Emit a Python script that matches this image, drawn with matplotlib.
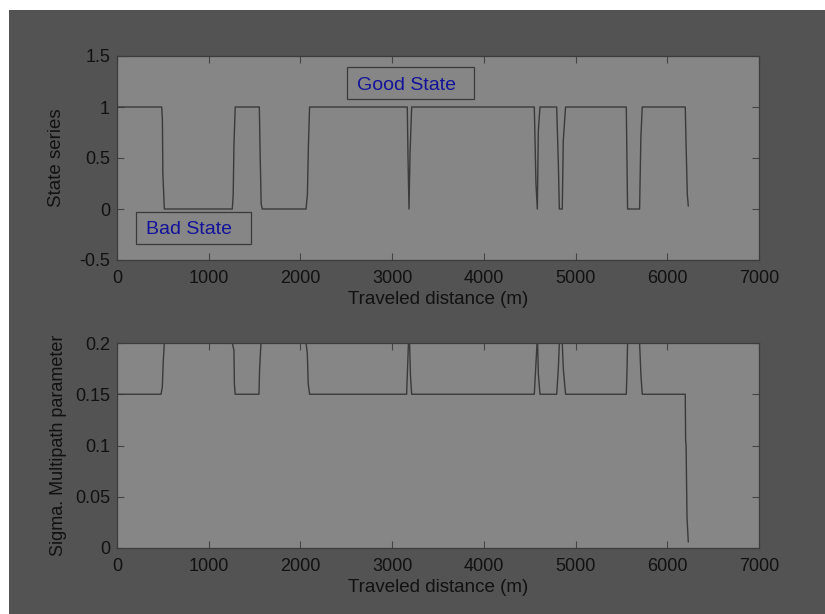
import matplotlib
matplotlib.use("Agg")
import matplotlib.pyplot as plt
from matplotlib.patches import Rectangle

plt.rcParams['font.family'] = ['Liberation Sans', 'DejaVu Sans']

# ---- data ----
state_x = [0, 487, 495, 500, 516, 1257, 1267, 1275, 1289, 1552, 1560, 1572, 1584,
           2061, 2076, 2087, 2100, 3165, 3173, 3184, 3195, 3213,
           4550, 4568, 4583, 4594, 4612, 4794, 4812, 4823, 4855, 4866, 4891,
           5553, 5560, 5567, 5698, 5712, 5727, 6196, 6203, 6218, 6229]
state_y = [1, 1, 0.88, 0.35, 0, 0, 0.14, 0.62, 1, 1, 0.57, 0.05, 0,
           0, 0.14, 0.62, 1, 1, 0.5, 0, 0.55, 1,
           1, 0.25, 0, 0.77, 1, 1, 0.45, 0, 0, 0.67, 1,
           1, 0.5, 0, 0, 0.7, 1, 1, 0.7, 0.15, 0.03]

sigma_x = [0, 480, 494, 505, 516, 525, 1250, 1257, 1275, 1280, 1289,
           1548, 1555, 1570, 1578, 2055, 2061, 2075, 2085, 2100,
           3158, 3165, 3178, 3184, 3190, 3200, 3213,
           4550, 4568, 4580, 4583, 4586, 4594, 4612,
           4794, 4812, 4823, 4830, 4850, 4855, 4866, 4891,
           5553, 5560, 5567, 5572, 5690, 5698, 5712, 5727,
           6196, 6200, 6205, 6215, 6229]
sigma_y = [0.15, 0.15, 0.157, 0.183, 0.2, 0.25, 0.25, 0.2, 0.193, 0.16, 0.15,
           0.15, 0.175, 0.2, 0.25, 0.25, 0.2, 0.19, 0.16, 0.15,
           0.15, 0.168, 0.2, 0.25, 0.2, 0.168, 0.15,
           0.15, 0.18, 0.2, 0.25, 0.2, 0.17, 0.15,
           0.15, 0.175, 0.2, 0.25, 0.25, 0.2, 0.175, 0.15,
           0.15, 0.17, 0.2, 0.25, 0.25, 0.2, 0.17, 0.15,
           0.15, 0.105, 0.1, 0.03, 0.006]

x_ticks = [0, 1000, 2000, 3000, 4000, 5000, 6000, 7000]
top_yticks = [-0.5, 0, 0.5, 1, 1.5]
top_ylabels = ['-0.5', '0', '0.5', '1', '1.5']
bot_yticks = [0, 0.05, 0.1, 0.15, 0.2]
bot_ylabels = ['0', '0.05', '0.1', '0.15', '0.2']

FIG_BG = '#535353'
AX_BG = '#868686'
LINE_C = '#3a3a3a'
TXT_C = '#111111'
BLUE = '#12129a'
TICK_FS = 13
LAB_FS = 13.5

fig = plt.figure(figsize=(8.25, 6.14), dpi=100, facecolor='white')
fig.add_artist(Rectangle((9 / 825, 0), 1, 1 - 10 / 614, transform=fig.transFigure,
                         facecolor=FIG_BG, edgecolor='none', zorder=-10))

ax1 = fig.add_axes([117 / 825, 1 - 260 / 614, 642 / 825, 204 / 614])
ax2 = fig.add_axes([117 / 825, 1 - 548 / 614, 642 / 825, 205 / 614])

for ax in (ax1, ax2):
    ax.set_facecolor(AX_BG)
    for s in ax.spines.values():
        s.set_color('#3c3c3c')
        s.set_linewidth(0.9)
    ax.tick_params(direction='in', length=5, width=0.8, color='#444444',
                   labelsize=TICK_FS, labelcolor=TXT_C, top=True, right=True)
    ax.tick_params(axis='x', pad=7)
    ax.tick_params(axis='y', pad=5)
    ax.set_xlim(0, 7000)
    ax.set_xticks(x_ticks)
    ax.set_xticklabels([str(t) for t in x_ticks])
    ax.set_xlabel('Traveled distance (m)', fontsize=LAB_FS, color=TXT_C, labelpad=3)

ax1.plot(state_x, state_y, color=LINE_C, linewidth=1.0)
ax1.set_ylim(-0.5, 1.5)
ax1.set_yticks(top_yticks)
ax1.set_yticklabels(top_ylabels)
ax1.set_ylabel('State series', fontsize=LAB_FS, color=TXT_C, labelpad=10)

ax2.plot(sigma_x, sigma_y, color=LINE_C, linewidth=1.0)
ax2.set_ylim(0, 0.2)
ax2.set_yticks(bot_yticks)
ax2.set_yticklabels(bot_ylabels)
ax2.set_ylabel('Sigma. Multipath parameter', fontsize=LAB_FS - 0.5, color=TXT_C, labelpad=6)

# annotation boxes
ax1.add_patch(Rectangle((2508, 1.077), 1384, 0.32, facecolor='none',
                        edgecolor='#3a3a3a', linewidth=0.9))
ax1.text(3156, 1.21, 'Good State', fontsize=14, color=BLUE, ha='center', va='center')
ax1.add_patch(Rectangle((207, -0.346), 1251, 0.313, facecolor='none',
                        edgecolor='#3a3a3a', linewidth=0.9))
ax1.text(785, -0.205, 'Bad State', fontsize=14, color=BLUE, ha='center', va='center')

fig.savefig('out.png', dpi=100, facecolor=fig.get_facecolor())
